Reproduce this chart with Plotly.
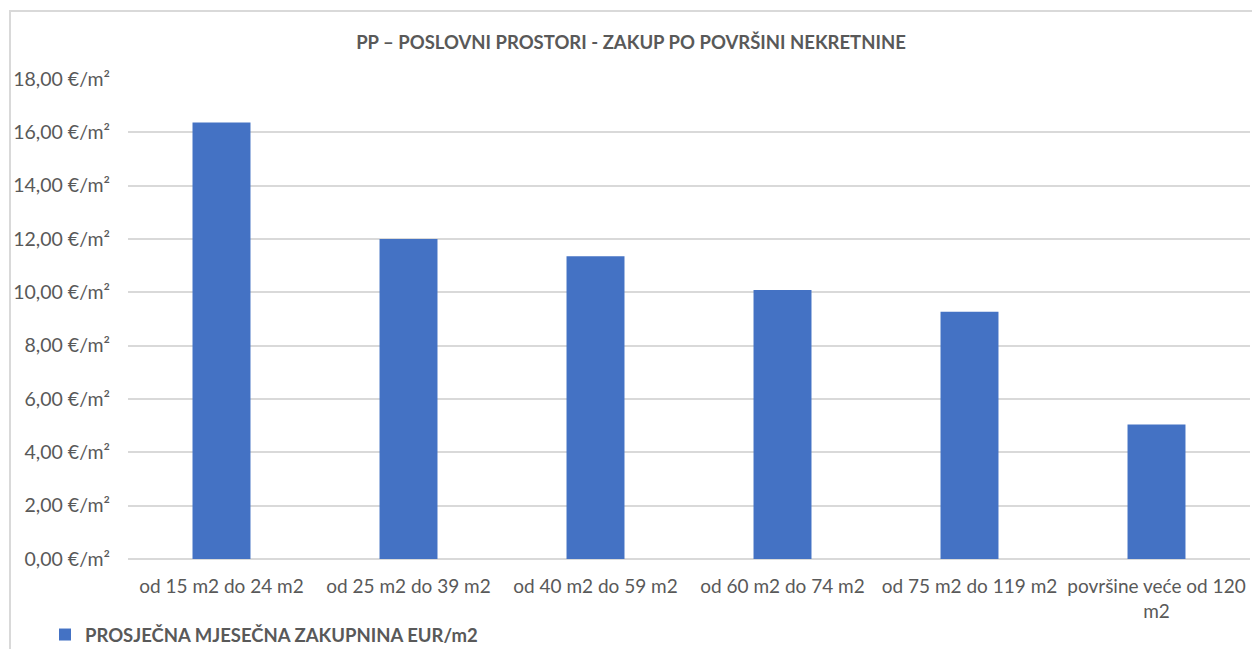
import plotly.graph_objects as go

categories = ["od 15 m2 do 24 m2", "od 25 m2 do 39 m2", "od 40 m2 do 59 m2",
              "od 60 m2 do 74 m2", "od 75 m2 do 119 m2", "površine veće od 120<br>m2"]
values = [16.37, 12.0, 11.35, 10.09, 9.27, 5.04]
series_name = "PROSJEČNA MJESEČNA ZAKUPNINA EUR/m2"
tick_vals = [0, 2, 4, 6, 8, 10, 12, 14, 16, 18]
tick_text = ["0,00 €/m²", "2,00 €/m²", "4,00 €/m²", "6,00 €/m²", "8,00 €/m²",
             "10,00 €/m²", "12,00 €/m²", "14,00 €/m²", "16,00 €/m²", "18,00 €/m²"]
title_text = "PP – POSLOVNI PROSTORI - ZAKUP PO POVRŠINI NEKRETNINE"

# page body has an 8px margin: the figure starts at (8, 8) in the window
O = 8
W, H = 1260 - O, 649 - O
M = 2  # outer margin
pw, ph = W - 2 * M, H - 2 * M
# target positions in window pixels
PL, PR, PT, PB = 128, 1250, 79, 559

font_family = "Lato, Open Sans, sans-serif"
grey = "#595959"

def px_x(x):
    return (x - O - M) / pw

def px_y(y):
    return (H - M - (y - O)) / ph

fig = go.Figure()
fig.add_trace(go.Bar(
    x=categories, y=values, name=f"<b>{series_name}</b>",
    marker=dict(color="#4472C4", line=dict(width=0)),
    showlegend=True,
))

fig.update_layout(
    width=W, height=H,
    margin=dict(l=M, r=M, t=M, b=M, autoexpand=False),
    paper_bgcolor="white", plot_bgcolor="white",
    bargap=0.69,
    font=dict(family=font_family, color=grey, size=18),
    title=dict(text=f"<b>{title_text}</b>", x=px_x(631), xref="paper", xanchor="center",
               y=1 - (43 - O) / H, yanchor="middle", yref="container",
               font=dict(size=18.5, color=grey, family=font_family)),
    xaxis=dict(domain=[px_x(PL), px_x(PR)], showgrid=False, showline=False, ticks="",
               automargin=False, ticklabelstandoff=14,
               tickfont=dict(size=19, color=grey), range=[-0.5, 5.5]),
    yaxis=dict(domain=[px_y(PB), px_y(PT)], range=[0, 18], tickvals=tick_vals, ticktext=tick_text,
               automargin=False,
               showgrid=True, gridcolor="#d9d9d9", gridwidth=1.5,
               zeroline=True, zerolinecolor="#d9d9d9", zerolinewidth=1.5,
               showline=False, ticks="", ticklabelstandoff=17,
               tickfont=dict(size=19.5, color=grey)),
    legend=dict(orientation="h", x=px_x(45), xanchor="left", y=px_y(635), yanchor="middle",
                font=dict(size=18.5, color=grey), bgcolor="rgba(0,0,0,0)",
                itemwidth=30),
    shapes=[dict(type="rect", xref="paper", yref="paper",
                 x0=px_x(10), x1=px_x(1254), y0=px_y(700), y1=px_y(11),
                 line=dict(color="#d9d9d9", width=2), fillcolor="rgba(0,0,0,0)", layer="below")],
)

fig.write_html("out.html")
